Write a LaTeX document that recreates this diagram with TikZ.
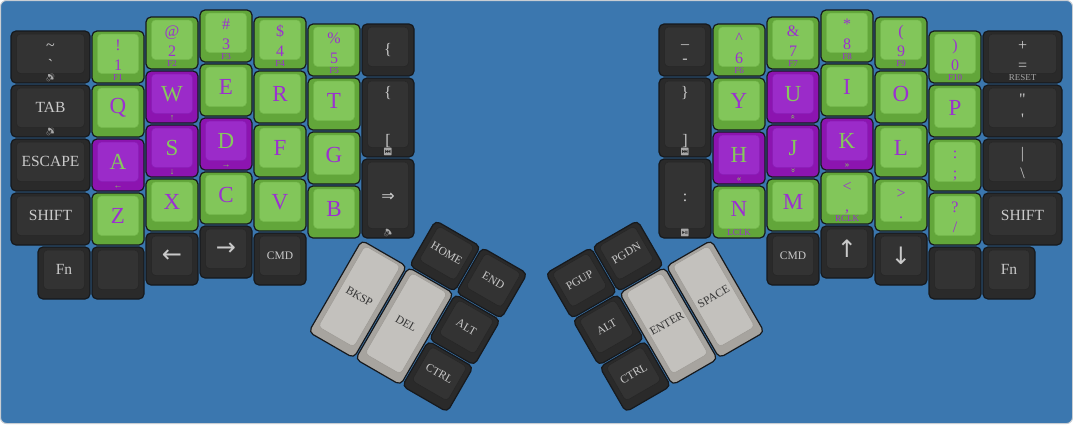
\documentclass[tikz,border=0pt]{standalone}
\usepackage{fontspec}
\setmainfont{Liberation Serif}
\newfontfamily\symf{DejaVu Sans}
\newfontfamily\emof{Noto Emoji}
\usetikzlibrary{calc}
\definecolor{bg}{HTML}{3B77AF}
\definecolor{frame}{HTML}{C8CDD3}
\definecolor{edge}{HTML}{16191D}
\definecolor{dkout}{HTML}{2A2A2A}
\definecolor{dkin}{HTML}{333333}
\definecolor{dkine}{HTML}{262626}
\definecolor{grout}{HTML}{62A63A}
\definecolor{grin}{HTML}{82C65A}
\definecolor{grine}{HTML}{74B84C}
\definecolor{puout}{HTML}{8C14B0}
\definecolor{puin}{HTML}{9B2BC9}
\definecolor{puine}{HTML}{8A1EB6}
\definecolor{gyout}{HTML}{A7A49F}
\definecolor{gytop}{HTML}{CDCBC7}
\definecolor{gybot}{HTML}{B8B5B0}
\definecolor{gyin}{HTML}{C3C1BD}
\definecolor{gyine}{HTML}{9E9B96}
\definecolor{ptxt}{HTML}{9B30D0}
\definecolor{gtxt}{HTML}{86C95C}
\definecolor{ltxt}{HTML}{CACACA}
\definecolor{ftxt}{HTML}{A8A8A8}
\definecolor{dtxt}{HTML}{333333}
% key: name, x, y, w, h, type
\newcommand\K[6]{%
  \draw[#6o] ({#2+1},{#3+1}) rectangle ({#2+#4-1},{#3+#5-1});
  \draw[#6i] ({#2+6.5},{#3+4}) rectangle ({#2+#4-6.5},{#3+#5-10.5});
  \coordinate (#1) at ({#2+#4/2},{#3+1});
  \coordinate (#1s) at ({#2+#4/2},{#3+#5-1});
  \coordinate (#1c) at ({#2+#4/2},{#3+4+(#5-14.5)/2});}
\newcommand\Lc[3]{\node[#2] (#1t) at (#1c) {#3};}
\newcommand\Lt[5]{%
  \node[#2,anchor=base] (#1a) at ($(#1)+(0,19)$) {#3};
  \node[#2,anchor=base] (#1b) at ($(#1)+(0,#5)$) {#4};}
\newcommand\Lf[3]{\node[#2,anchor=base] (#1f) at ($(#1s)+(0,-2.5)$) {#3};}
\begin{document}
\begin{tikzpicture}[x=1pt,y=-1pt,
  dko/.style={draw=edge, fill=dkout, line width=1.2pt, rounded corners=5pt},
  dki/.style={draw=dkine, fill=dkin, line width=0.5pt, rounded corners=4pt},
  gro/.style={draw=edge, fill=grout, line width=1.2pt, rounded corners=5pt},
  gri/.style={draw=grine, fill=grin, line width=0.5pt, rounded corners=4pt},
  puo/.style={draw=edge, fill=puout, line width=1.2pt, rounded corners=5pt},
  pui/.style={draw=puine, fill=puin, line width=0.5pt, rounded corners=4pt},
  gyo/.style={draw=edge, fill=gyout, line width=1.2pt, rounded corners=5pt},
  gyi/.style={draw=gyine, fill=gyin, line width=0.5pt, rounded corners=4pt},
  tLg/.style={inner sep=0pt, text=ptxt, font=\fontsize{23}{24}\selectfont},
  tLp/.style={inner sep=0pt, text=gtxt, font=\fontsize{23}{24}\selectfont},
  tNg/.style={inner sep=0pt, text=ptxt, font=\fontsize{16}{17}\selectfont},
  tNd/.style={inner sep=0pt, text=ltxt, font=\fontsize{16}{17}\selectfont},
  tWd/.style={inner sep=0pt, text=ltxt, font=\fontsize{15.5}{16}\selectfont},
  tSd/.style={inner sep=0pt, text=ltxt, font=\fontsize{11.5}{12}\selectfont},
  tTd/.style={inner sep=0pt, text=ltxt, font=\fontsize{11.5}{12}\selectfont},
  tTg/.style={inner sep=0pt, text=dtxt, font=\fontsize{11.5}{12}\selectfont},
  tAr/.style={inner sep=0pt, text=ltxt, font=\symf\fontsize{24}{24}\selectfont},
  fG/.style={inner sep=0pt, text=ptxt, font=\fontsize{9}{9}\selectfont},
  fP/.style={inner sep=0pt, text=gtxt, font=\fontsize{9}{9}\selectfont},
  fD/.style={inner sep=0pt, text=ftxt, font=\fontsize{9}{9}\selectfont},
  fE/.style={inner sep=0pt, text=ftxt, font=\emof\fontsize{7.5}{7.5}\selectfont},
]
\useasboundingbox (0,0) rectangle (1073,424);
\fill[white] (0,0) rectangle (1073,424);
\filldraw[fill=bg, draw=frame, line width=1pt, rounded corners=6pt] (0.5,0.5) rectangle (1072.5,423.5);

% ===== left half =====
\K{kTil}{10}{30}{81}{54}{dk}\Lt{kTil}{tNd}{\textasciitilde}{\textasciigrave}{39.5}\Lf{kTil}{fE}{🔊}
\K{kTab}{10}{84}{81}{54}{dk}\Lc{kTab}{tWd}{TAB}\Lf{kTab}{fE}{🔉}
\K{kEsc}{10}{138}{81}{54}{dk}\Lc{kEsc}{tWd}{ESCAPE}
\K{kShL}{10}{192}{81}{54}{dk}\Lc{kShL}{tWd}{SHIFT}
\K{kFnL}{37}{246}{54}{54}{dk}\Lc{kFnL}{tWd}{Fn}

\K{k1}{91}{30}{54}{54}{gr}\Lt{k1}{tNg}{!}{1}{39.5}\Lf{k1}{fG}{F1}
\K{kQ}{91}{84}{54}{54}{gr}\Lc{kQ}{tLg}{Q}
\K{kA}{91}{138}{54}{54}{pu}\Lc{kA}{tLp}{A}\Lf{kA}{fP}{←}
\K{kZ}{91}{192}{54}{54}{gr}\Lc{kZ}{tLg}{Z}
\K{kBlL}{91}{246}{54}{54}{dk}

\K{k2}{145}{16}{54}{54}{gr}\Lt{k2}{tNg}{@}{2}{39.5}\Lf{k2}{fG}{F2}
\K{kW}{145}{70}{54}{54}{pu}\Lc{kW}{tLp}{W}\Lf{kW}{fP}{↑}
\K{kS}{145}{124}{54}{54}{pu}\Lc{kS}{tLp}{S}\Lf{kS}{fP}{↓}
\K{kX}{145}{178}{54}{54}{gr}\Lc{kX}{tLg}{X}
\K{kLeft}{145}{232}{54}{54}{dk}\Lc{kLeft}{tAr}{←}

\K{k3}{199}{9}{54}{54}{gr}\Lt{k3}{tNg}{\#}{3}{39.5}\Lf{k3}{fG}{F3}
\K{kE}{199}{63}{54}{54}{gr}\Lc{kE}{tLg}{E}
\K{kD}{199}{117}{54}{54}{pu}\Lc{kD}{tLp}{D}\Lf{kD}{fP}{→}
\K{kC}{199}{171}{54}{54}{gr}\Lc{kC}{tLg}{C}
\K{kRight}{199}{225}{54}{54}{dk}\Lc{kRight}{tAr}{→}

\K{k4}{253}{16}{54}{54}{gr}\Lt{k4}{tNg}{\$}{4}{39.5}\Lf{k4}{fG}{F4}
\K{kR}{253}{70}{54}{54}{gr}\Lc{kR}{tLg}{R}
\K{kF}{253}{124}{54}{54}{gr}\Lc{kF}{tLg}{F}
\K{kV}{253}{178}{54}{54}{gr}\Lc{kV}{tLg}{V}
\K{kCmdL}{253}{232}{54}{54}{dk}\Lc{kCmdL}{tSd}{CMD}

\K{k5}{307}{23}{54}{54}{gr}\Lt{k5}{tNg}{\%}{5}{39.5}\Lf{k5}{fG}{F5}
\K{kT}{307}{77}{54}{54}{gr}\Lc{kT}{tLg}{T}
\K{kG}{307}{131}{54}{54}{gr}\Lc{kG}{tLg}{G}
\K{kB}{307}{185}{54}{54}{gr}\Lc{kB}{tLg}{B}

\K{kLb1}{361}{23}{54}{54}{dk}\node[tNd] (kLb1t) at ($(kLb1)+(0,26)$) {\{};
\K{kLb2}{361}{77}{54}{81}{dk}\Lt{kLb2}{tNd}{\{}{[}{67}\Lf{kLb2}{fE}{⏮}
\K{kImp}{361}{158}{54}{81}{dk}\node[tNd,font=\symf\fontsize{16}{16}\selectfont] (kImpt) at ($(kImp)+(0,38)$) {⇒};\Lf{kImp}{fE}{🔈}

% ===== right half =====
\K{kUs}{658}{23}{54}{54}{dk}\Lt{kUs}{tNd}{\_}{-}{39.5}
\K{kRb}{658}{77}{54}{81}{dk}\Lt{kRb}{tNd}{\}}{]}{67}\Lf{kRb}{fE}{⏭}
\K{kCol}{658}{158}{54}{81}{dk}\node[tNd] (kColt) at ($(kCol)+(0,39)$) {:};\Lf{kCol}{fE}{⏯}

\K{k6}{712}{23}{54}{54}{gr}\Lt{k6}{tNg}{\textasciicircum}{6}{39.5}\Lf{k6}{fG}{F6}
\K{kY}{712}{77}{54}{54}{gr}\Lc{kY}{tLg}{Y}
\K{kH}{712}{131}{54}{54}{pu}\Lc{kH}{tLp}{H}\Lf{kH}{fP}{«}
\K{kN}{712}{185}{54}{54}{gr}\Lc{kN}{tLg}{N}\Lf{kN}{fG}{LCLK}

\K{k7}{766}{16}{54}{54}{gr}\Lt{k7}{tNg}{\&}{7}{39.5}\Lf{k7}{fG}{F7}
\K{kU}{766}{70}{54}{54}{pu}\Lc{kU}{tLp}{U}\node[fP,rotate=90] (kUf) at ($(kUs)+(0,-6)$) {»};
\K{kJ}{766}{124}{54}{54}{pu}\Lc{kJ}{tLp}{J}\node[fP,rotate=-90] (kJf) at ($(kJs)+(0,-6)$) {»};
\K{kM}{766}{178}{54}{54}{gr}\Lc{kM}{tLg}{M}
\K{kCmdR}{766}{232}{54}{54}{dk}\Lc{kCmdR}{tSd}{CMD}

\K{k8}{820}{9}{54}{54}{gr}\Lt{k8}{tNg}{*}{8}{39.5}\Lf{k8}{fG}{F8}
\K{kI}{820}{63}{54}{54}{gr}\Lc{kI}{tLg}{I}
\K{kK}{820}{117}{54}{54}{pu}\Lc{kK}{tLp}{K}\Lf{kK}{fP}{»}
\K{kComma}{820}{171}{54}{54}{gr}\Lt{kComma}{tNg}{<}{,}{39.5}\Lf{kComma}{fG}{RCLK}
\K{kUp}{820}{225}{54}{54}{dk}\Lc{kUp}{tAr}{↑}

\K{k9}{874}{16}{54}{54}{gr}\Lt{k9}{tNg}{(}{9}{39.5}\Lf{k9}{fG}{F9}
\K{kO}{874}{70}{54}{54}{gr}\Lc{kO}{tLg}{O}
\K{kL}{874}{124}{54}{54}{gr}\Lc{kL}{tLg}{L}
\K{kDot}{874}{178}{54}{54}{gr}\Lt{kDot}{tNg}{>}{.}{39.5}
\K{kDown}{874}{232}{54}{54}{dk}\Lc{kDown}{tAr}{↓}

\K{k0}{928}{30}{54}{54}{gr}\Lt{k0}{tNg}{)}{0}{39.5}\Lf{k0}{fG}{F10}
\K{kP}{928}{84}{54}{54}{gr}\Lc{kP}{tLg}{P}
\K{kSemi}{928}{138}{54}{54}{gr}\Lt{kSemi}{tNg}{:}{;}{39.5}
\K{kSlash}{928}{192}{54}{54}{gr}\Lt{kSlash}{tNg}{?}{/}{39.5}
\K{kBlR}{928}{246}{54}{54}{dk}

\K{kEq}{982}{30}{81}{54}{dk}\Lt{kEq}{tNd}{+}{=}{39.5}\Lf{kEq}{fD}{RESET}
\K{kQuo}{982}{84}{81}{54}{dk}\Lt{kQuo}{tNd}{\textquotedbl}{\textquotesingle}{39.5}
\K{kBsl}{982}{138}{81}{54}{dk}\Lt{kBsl}{tNd}{|}{\textbackslash}{39.5}
\K{kShR}{982}{192}{81}{54}{dk}\Lc{kShR}{tWd}{SHIFT}
\K{kFnR}{982}{246}{54}{54}{dk}\Lc{kFnR}{tWd}{Fn}

% ===== left thumb cluster =====
\begin{scope}[shift={(445,256)}, rotate=-30, transform shape]
\K{tHome}{-27}{-27}{54}{54}{dk}\Lc{tHome}{tTd}{HOME}
\K{tEnd}{27}{-27}{54}{54}{dk}\Lc{tEnd}{tTd}{END}
\K{tBksp}{-81}{27}{54}{108}{gy}\Lc{tBksp}{tTg}{BKSP}
\K{tDel}{-27}{27}{54}{108}{gy}\Lc{tDel}{tTg}{DEL}
\K{tAltL}{27}{27}{54}{54}{dk}\Lc{tAltL}{tTd}{ALT}
\K{tCtrlL}{27}{81}{54}{54}{dk}\Lc{tCtrlL}{tTd}{CTRL}
\end{scope}

% ===== right thumb cluster =====
\begin{scope}[shift={(628,256)}, rotate=30, transform shape]
\K{tPgdn}{-27}{-27}{54}{54}{dk}\Lc{tPgdn}{tTd}{PGDN}
\K{tPgup}{-81}{-27}{54}{54}{dk}\Lc{tPgup}{tTd}{PGUP}
\K{tSpace}{27}{27}{54}{108}{gy}\Lc{tSpace}{tTg}{SPACE}
\K{tEnter}{-27}{27}{54}{108}{gy}\Lc{tEnter}{tTg}{ENTER}
\K{tAltR}{-81}{27}{54}{54}{dk}\Lc{tAltR}{tTd}{ALT}
\K{tCtrlR}{-81}{81}{54}{54}{dk}\Lc{tCtrlR}{tTd}{CTRL}
\end{scope}
\end{tikzpicture}
\end{document}
